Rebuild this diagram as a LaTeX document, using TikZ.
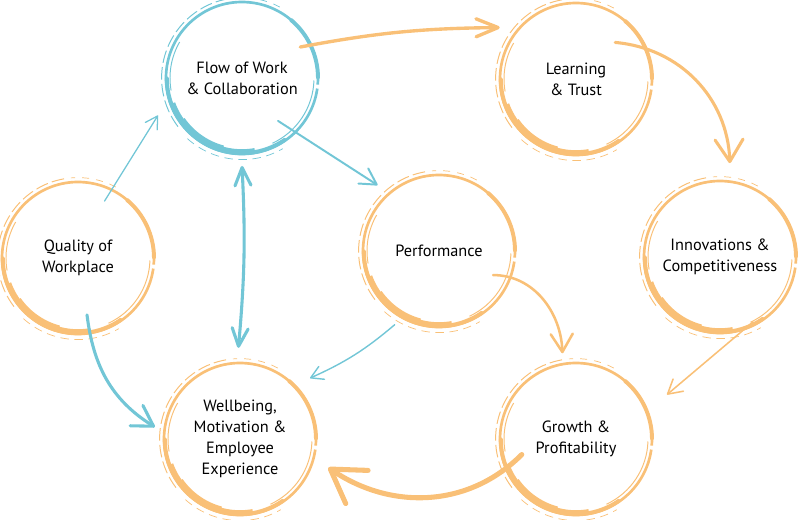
\documentclass[tikz,border=0pt]{standalone}
\usepackage{fontspec}
\setmainfont{PT Sans}
\usepackage{tikz}
\usetikzlibrary{arrows.meta}
\definecolor{ringblue}{HTML}{72C6D6}
\definecolor{ringorange}{HTML}{F9C077}

\begin{document}
\begin{tikzpicture}[
  stage/.style={circle, minimum size=3.8cm, align=center, text=black,
    font=\fontsize{11.6}{15}\selectfont},
  barb/.style 2 args={-{Straight Barb[length=#1, width=#2, round]}, line cap=round},
  brushring/.pic={
    \draw[line width=1.9pt] (-5:1.9) arc (-5:352:1.9);
    \draw[line width=2.8pt, line cap=round] (180:1.88) arc (180:305:1.88);
    \draw[line width=4pt] (200:1.85) arc (200:280:1.85);
    \draw[line width=4.6pt] (215:1.83) arc (215:255:1.83);
    \draw[line width=2.8pt, line cap=round] (0:1.9) arc (0:50:1.9);
    \draw[line width=0.7pt] (-65:1.8) arc (-65:-2:1.8);
    \draw[line width=0.7pt] (150:1.8) arc (150:190:1.8);
    \draw[line width=0.7pt, dash pattern=on 9pt off 3pt] (100:2.01) arc (100:218:2.01);
    \draw[line width=0.5pt, dash pattern=on 6pt off 4pt] (228:2.04) arc (228:300:2.04);
    \draw[line width=0.5pt, dash pattern=on 5pt off 5pt] (62:2.01) arc (62:95:2.01);
  }]
\useasboundingbox (0,0) rectangle (20,-13);

\node[stage] (flow) at (6.05,-1.95) {Flow of Work\\\& Collaboration};
\node[stage] (learn) at (14.4,-1.975) {Learning\\\& Trust};
\node[stage] (quality) at (1.95,-6.45) {Quality of\\Workplace};
\node[stage] (perf) at (10.975,-6.275) {Performance};
\node[stage] (innov) at (18,-6.425) {Innovations \&\\Competitiveness};
\node[stage] (well) at (6,-10.975) {Wellbeing,\\Motivation \&\\Employee\\Experience};
\node[stage] (growth) at (14.4,-10.975) {Growth \&\\Profitability};

\pic[ringblue] at (flow) {brushring};
\pic[ringorange] at (learn) {brushring};
\pic[ringorange] at (quality) {brushring};
\pic[ringorange] at (perf) {brushring};
\pic[ringorange] at (innov) {brushring};
\pic[ringorange] at (well) {brushring};
\pic[ringorange] at (growth) {brushring};

\draw[ringorange, line width=2.4pt, barb={0.55cm}{0.45cm}] ([shift={(28:1.65)}]flow.center) to[bend left=5] ([shift={(146:2.3)}]learn.center);
\draw[ringorange, line width=2.2pt, barb={0.55cm}{0.7cm}] ([shift={(43:1.34)}]learn.center) to[out=-5, in=92] ([shift={(84:2.36)}]innov.center);
\draw[ringorange, line width=1.1pt, barb={0.35cm}{0.4cm}] ([shift={(-63:1.82)}]innov.center) -- ([shift={(26:2.53)}]growth.center);
\draw[ringorange, line width=1.8pt, barb={0.45cm}{0.55cm}] ([shift={(-24:1.48)}]perf.center) to[out=0, in=92] ([shift={(99:2.17)}]growth.center);
\draw[ringorange, line width=3.6pt, barb={0.8cm}{1cm}] ([shift={(196:1.41)}]growth.center) to[out=-135, in=-34] ([shift={(-18:2.32)}]well.center);

\draw[ringblue, line width=1.4pt, barb={0.4cm}{0.45cm}] ([shift={(-50:1.4)}]flow.center) -- ([shift={(133:2.25)}]perf.center);
\draw[ringblue, line width=0.9pt, barb={0.3cm}{0.35cm}] ([shift={(65:1.57)}]quality.center) -- ([shift={(204:2.3)}]flow.center);
\draw[ringblue, line width=2.2pt, {Straight Barb[length=0.45cm, width=0.4cm, round]}-{Straight Barb[length=0.45cm, width=0.4cm, round]}, line cap=round] ([shift={(-90:2.2)}]flow.center) to[bend left=4] ([shift={(91:2.28)}]well.center);
\draw[ringblue, line width=1pt, barb={0.3cm}{0.35cm}] ([shift={(239:2.15)}]perf.center) to[bend left=8] ([shift={(41:2.32)}]well.center);
\draw[ringblue, line width=2.2pt, barb={0.5cm}{0.6cm}] ([shift={(-81:1.44)}]quality.center) to[out=-83, in=148] ([shift={(172:2.15)}]well.center);

\end{tikzpicture}
\end{document}
